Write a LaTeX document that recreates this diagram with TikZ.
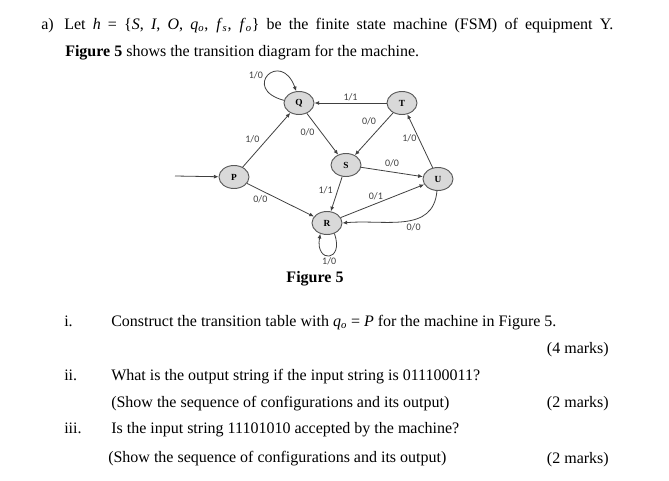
\documentclass[tikz,border=0pt]{standalone}
\usepackage{fontspec}
\setmainfont{Liberation Serif}
\newfontfamily\labelfont{Carlito}
\usepackage{tikz}
\usetikzlibrary{shapes.geometric, arrows.meta, positioning}
\definecolor{stategray}{HTML}{D9D9D9}
\definecolor{bordergray}{HTML}{595959}
\definecolor{edgegray}{HTML}{404040}

\begin{document}
\begin{tikzpicture}[x=0.75pt, y=0.75pt,
    state/.style={ellipse, draw=bordergray, line width=0.7pt, fill=stategray,
                  minimum width=22.5pt, minimum height=17.25pt, inner sep=0pt,
                  font=\fontsize{7}{8}\selectfont\bfseries},
    arrow/.style={-{Latex[length=3.5pt,width=3pt]}, line width=0.6pt, color=edgegray},
    elabel/.style={font=\labelfont\fontsize{7.5}{8}\selectfont, text=edgegray, inner sep=1.5pt},
    txt/.style={anchor=base west, inner sep=0pt, font=\fontsize{12}{14}\selectfont},
    marks/.style={anchor=base east, inner sep=0pt, font=\fontsize{12}{14}\selectfont}
]
\useasboundingbox (0,0) rectangle (669,480);

\node[txt] (parta) at (41,451) {a)};
\node[txt] (intro) at (64,451) {\makebox[411.75pt][s]{Let \textit{h} = \{\textit{S}, \textit{I}, \textit{O}, \textit{q}\textsubscript{\textit{o}}, \textit{f}\textsubscript{\textit{s}}, \textit{f}\textsubscript{\textit{o}}\} be the finite state machine (FSM) of equipment Y.}};
\node[txt] (intro2) at (65,424) {\textbf{Figure 5} shows the transition diagram for the machine.};

\node[state] (P) at (234,303) {P};
\node[state] (Q) at (299,377) {Q};
\node[state] (T) at (402,377) {T};
\node[state] (S) at (346,315) {S};
\node[state] (U) at (438,301) {U};
\node[state] (R) at (327,257) {R};
\coordinate (start) at (175,304);

\draw[arrow] (start) -- (P);
\draw[arrow] (P) -- node[elabel, pos=0.4, above left] (lpq) {1/0} (Q);
\draw[arrow] (P) -- node[elabel, pos=0.26, below left=1pt and -4pt] (lpr) {0/0} (R);
\draw[arrow] (Q.170) to[out=165, in=110, looseness=7.5]
    node[elabel, pos=0.5, left=2pt] (lqq) {1/0} (Q.103);
\draw[arrow] (Q) -- node[elabel, pos=0.45, left=3pt] (lqs) {0/0} (S);
\draw[arrow] (T) -- node[elabel, midway, above] (ltq) {1/1} (Q);
\draw[arrow] (T) -- node[elabel, pos=0.35, above left=0pt and 1pt] (lts) {0/0} (S);
\draw[arrow] (U) -- node[elabel, pos=0.55, left] (lut) {1/0} (T);
\draw[arrow] (S) -- node[elabel, midway, above=2pt] (lsu) {0/0} (U);
\draw[arrow] (S) -- node[elabel, pos=0.4, left=2pt] (lsr) {1/1} (R);
\draw[arrow] (R) -- node[elabel, pos=0.42, above=1pt] (lru) {0/1} (U);
\draw[arrow] (U.-95) to[out=-95, in=5, looseness=1.1]
    node[elabel, pos=0.45, below right=0pt and -4pt] (lur) {0/0} (R.east);
\draw[arrow] (R.-55) to[out=-70, in=-100, looseness=5.5]
    node[elabel, pos=0.5, below] (lrr) {1/0} (R.-122);

\node[anchor=base, inner sep=0pt, font=\fontsize{12}{14}\selectfont\bfseries] (caption) at (315,198) {Figure 5};

\node[txt] (i) at (64,154) {i.};
\node[txt] (qi) at (111,154) {Construct the transition table with \textit{q}\textsubscript{\textit{o}} = \textit{P} for the machine in Figure 5.};
\node[marks] (mi) at (609,127) {(4 marks)};
\node[txt] (ii) at (64,100) {ii.};
\node[txt] (qii) at (111,100) {What is the output string if the input string is 011100011?};
\node[txt] (qiib) at (111,73) {(Show the sequence of configurations and its output)};
\node[marks] (mii) at (609,73) {(2 marks)};
\node[txt] (iii) at (64,47) {iii.};
\node[txt] (qiii) at (111,47) {Is the input string 11101010 accepted by the machine?};
\node[txt] (qiiib) at (108,18) {(Show the sequence of configurations and its output)};
\node[marks] (miii) at (609,17) {(2 marks)};
\end{tikzpicture}
\end{document}
